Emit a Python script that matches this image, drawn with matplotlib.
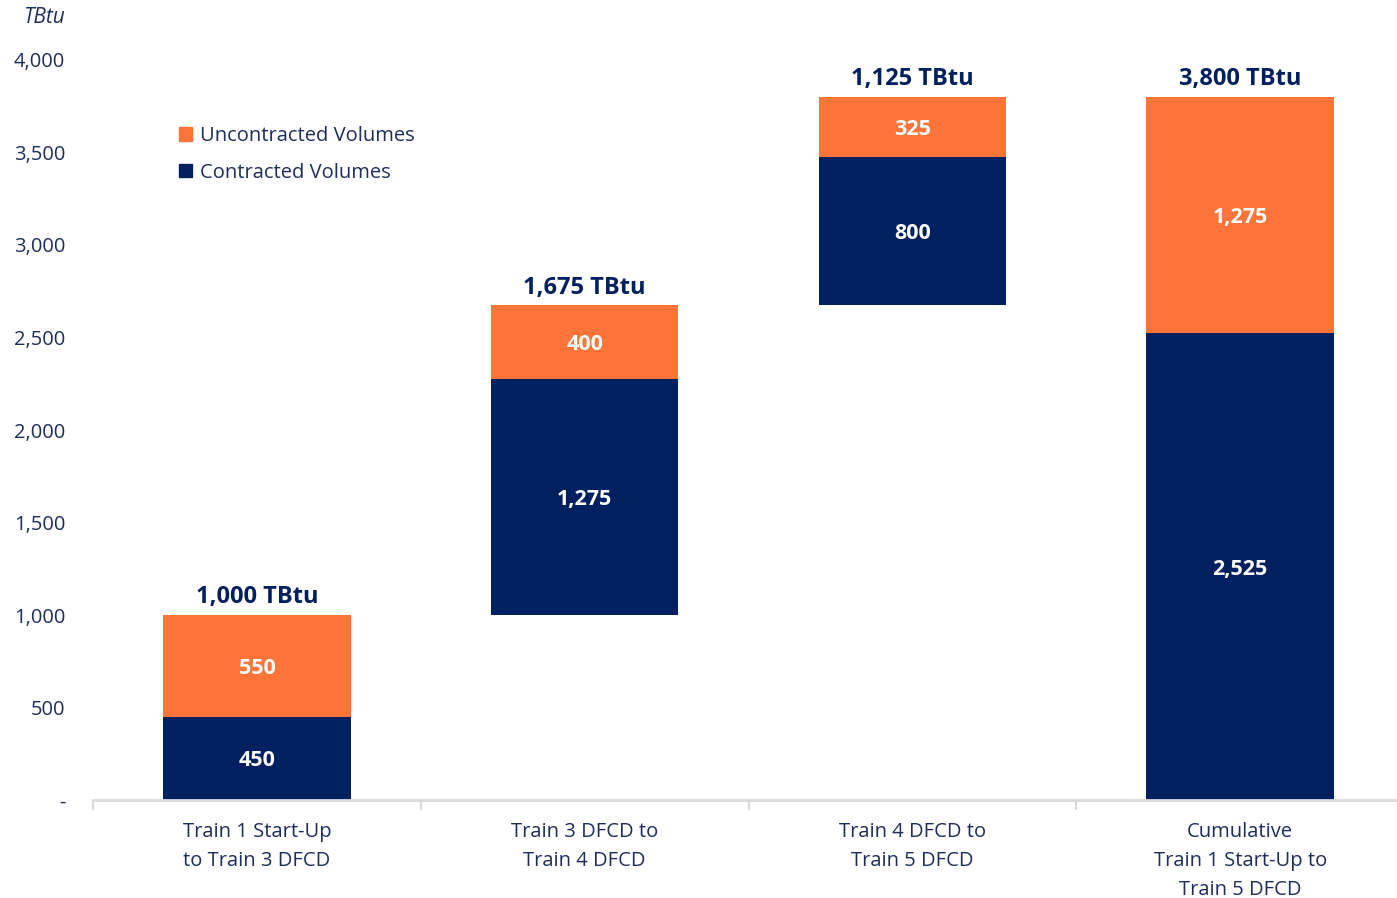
import matplotlib.pyplot as plt
import numpy as np
from matplotlib.patches import Patch

categories = ["Train 1 Start-Up\nto Train 3 DFCD",
              "Train 3 DFCD to\nTrain 4 DFCD",
              "Train 4 DFCD to\nTrain 5 DFCD",
              "Cumulative\nTrain 1 Start-Up to\nTrain 5 DFCD"]
base = [0, 1000, 2675, 0]
contracted = [450, 1275, 800, 2525]
uncontracted = [550, 400, 325, 1275]
totals = ["1,000 TBtu", "1,675 TBtu", "1,125 TBtu", "3,800 TBtu"]
yticks = [0, 500, 1000, 1500, 2000, 2500, 3000, 3500, 4000]
ytick_labels = ["-", "500", "1,000", "1,500", "2,000", "2,500", "3,000", "3,500", "4,000"]

NAVY = "#002060"
ORANGE = "#FD7438"
TEXT = "#1F2D5A"
plt.rcParams["font.family"] = ["Open Sans", "DejaVu Sans"]

fig = plt.figure(figsize=(13.97, 8.98), dpi=100)
ax = fig.add_axes([0.0666, 0.1091, 0.9385, 0.8241])

x = np.arange(len(categories))
width = 0.572
base = np.array(base)
contracted = np.array(contracted)
uncontracted = np.array(uncontracted)

ax.bar(x, contracted, width, bottom=base, color=NAVY)
ax.bar(x, uncontracted, width, bottom=base + contracted, color=ORANGE)

for i in range(len(x)):
    ax.text(x[i], base[i] + contracted[i] / 2 - 14, f"{contracted[i]:,}", ha="center", va="center",
            color="white", fontsize=15.5, fontweight="bold")
    ax.text(x[i], base[i] + contracted[i] + uncontracted[i] / 2 - 14, f"{uncontracted[i]:,}",
            ha="center", va="center", color="white", fontsize=15.5, fontweight="bold")
    top = base[i] + contracted[i] + uncontracted[i]
    ax.text(x[i], top + 30, totals[i], ha="center", va="bottom",
            color=NAVY, fontsize=17, fontweight="bold")

ax.set_xlim(-0.5, 3.5)
ax.set_ylim(0, 4000)
ax.set_yticks(yticks)
ax.set_yticklabels(ytick_labels, fontsize=14.5, color=TEXT)
ax.tick_params(axis="y", length=0, pad=20)

ax.set_xticks(x)
ax.set_xticklabels(categories, fontsize=14.5, color=TEXT, linespacing=1.58)
ax.tick_params(axis="x", length=0, pad=16)
ax.set_xticks(np.arange(-0.5, 3.5, 1), minor=True)
ax.tick_params(axis="x", which="minor", length=7, color="#D9D9D9", width=1.5)

for side in ["top", "right", "left"]:
    ax.spines[side].set_visible(False)
ax.spines["bottom"].set_color("#D9D9D9")
ax.spines["bottom"].set_linewidth(2)

fig.text(0.0315, 0.980, "TBtu", fontsize=15, style="italic", color=TEXT, ha="center", va="center")

handles = [Patch(color=ORANGE, label="Uncontracted Volumes"),
           Patch(color=NAVY, label="Contracted Volumes")]
leg = ax.legend(handles=handles, loc="upper left", bbox_to_anchor=(0.115, 0.8797),
                bbox_transform=fig.transFigure, frameon=False, fontsize=14.5,
                handlelength=0.65, handleheight=0.65, handletextpad=0.4, labelspacing=0.82)
for t in leg.get_texts():
    t.set_color(TEXT)

fig.savefig("out.png", dpi=100)
